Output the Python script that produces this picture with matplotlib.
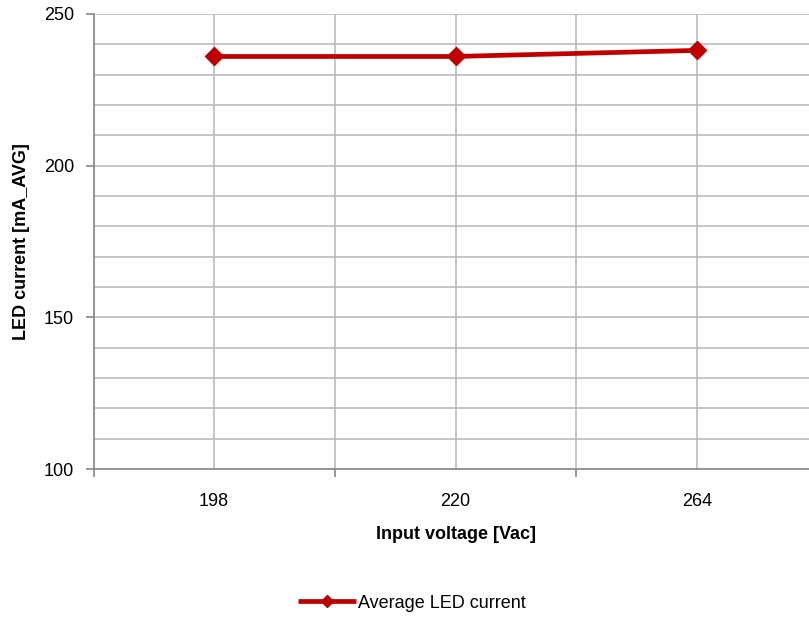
import matplotlib
matplotlib.use("Agg")
import matplotlib.pyplot as plt
from matplotlib.ticker import MultipleLocator, FixedLocator

plt.rcParams['font.family'] = ['Liberation Sans', 'DejaVu Sans']

categories = ["198", "220", "264"]
current = [236, 236, 238]
series_name = "Average LED current"

fig = plt.figure(figsize=(8.09, 6.18), dpi=100)
ax = fig.add_axes([93.5/809, 1 - 469/618, 724/809, (469-14)/618])

x = list(range(len(categories)))
ax.plot(x, current, color='#c00000', lw=3.4, marker='D', ms=9,
        label=series_name, zorder=3, solid_capstyle='butt')

ax.set_xlim(-0.5, len(categories) - 0.5)
ax.set_ylim(100, 250)

ax.set_xticks(x)
ax.set_xticklabels(categories, fontsize=13)
ax.xaxis.set_minor_locator(FixedLocator([i - 0.5 for i in range(len(categories) + 1)]))
ax.tick_params(axis='x', which='major', length=0, pad=17)
ax.tick_params(axis='x', which='minor', length=6, color='#888888', width=1.2)

ax.yaxis.set_major_locator(MultipleLocator(50))
ax.yaxis.set_minor_locator(MultipleLocator(10))
ax.tick_params(axis='y', which='major', length=6, color='#888888', width=1.2, labelsize=13, pad=8)
ax.tick_params(axis='y', which='minor', length=0)

ax.grid(True, which='major', axis='x', color='#bbbbbb', lw=1.2)
ax.grid(True, which='minor', axis='x', color='#bbbbbb', lw=1.2)
ax.grid(True, which='both', axis='y', color='#bbbbbb', lw=1.2)
ax.set_axisbelow(True)

for s in ['top', 'right']:
    ax.spines[s].set_visible(False)
for s in ['left', 'bottom']:
    ax.spines[s].set_color('#888888')
    ax.spines[s].set_linewidth(1.2)

ax.set_xlabel("Input voltage [Vac]", fontsize=13, fontweight='bold', labelpad=12)
ax.set_ylabel("LED current [mA_AVG]", fontsize=13, fontweight='bold', labelpad=10)

fig.legend(loc='center', bbox_to_anchor=(412/809, 1 - 603/618), frameon=False,
           fontsize=13, handlelength=3.2, handletextpad=0.1, markerscale=0.7)

fig.savefig("out.png", dpi=100)
